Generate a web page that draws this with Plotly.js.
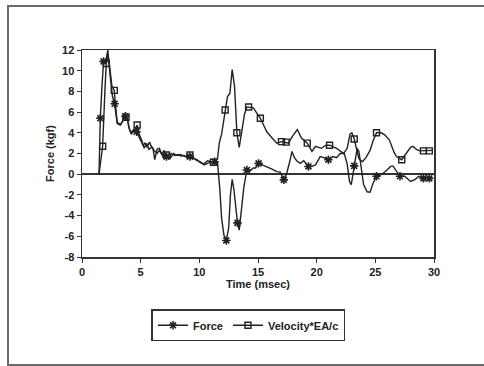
<!DOCTYPE html>
<html>
<head>
<meta charset="utf-8">
<script src="https://cdn.plot.ly/plotly-3.0.1.min.js"></script>
<style>
html,body{margin:0;padding:0;background:#fff;overflow:hidden;}
#wrap{position:relative;width:484px;height:366px;overflow:hidden;}
#chart{position:absolute;left:0;top:0;width:484px;height:366px;}
#frame{position:absolute;left:7px;top:5px;width:490px;height:357px;border:2px solid #6a6a6a;border-right:none;pointer-events:none;}
</style>
</head>
<body>
<div id="wrap"><div id="chart"></div><div id="frame"></div></div>
<script>
// Force series (time in msec, force in kgf)
var forceT = [1.45,1.56,1.7,1.84,2.0,2.2,2.4,2.6,2.78,2.9,3.0,3.25,3.5,3.7,3.85,4.0,4.17,4.4,4.65,4.8,5.0,5.2,5.35,5.55,5.75,5.9,6.05,6.2,6.4,6.6,6.8,7.0,7.2,7.4,7.6,7.9,8.2,8.4,8.7,9.0,9.2,9.5,9.8,10.1,10.4,10.7,11.0,11.3,11.55,11.75,11.9,12.1,12.3,12.5,12.65,12.8,12.95,13.1,13.25,13.4,13.6,13.8,14.05,14.3,14.6,14.8,15.05,15.4,15.75,16.2,16.6,16.9,17.2,17.45,17.7,17.9,18.1,18.3,18.6,18.9,19.3,19.7,19.9,20.3,20.6,21.0,21.4,21.7,22.0,22.35,22.6,22.8,22.95,23.1,23.2,23.45,23.6,23.8,24.0,24.3,24.55,24.8,25.1,25.5,25.9,26.3,26.5,26.8,27.1,27.5,28.0,28.4,28.7,29.1,29.5,29.85];
var forceV = [0,5.4,8.5,10.9,10.7,12,9.5,7.5,6.8,5.5,4.9,4.75,5.3,5.6,5.4,4.5,4.0,4.3,4.1,3.7,3.3,2.8,3.0,2.6,3.1,2.7,2.5,1.4,2.4,2.5,1.9,2.3,1.7,1.6,2.0,1.8,1.9,1.75,1.8,1.6,1.7,1.5,1.4,1.1,1.0,1.3,1.2,1.2,1.1,-1.5,-4.3,-5.9,-6.4,-5.2,-2.0,-0.5,-1.5,-3.5,-4.7,-5.4,-3.5,-1.2,0.4,0.3,0.6,0.6,1.05,0.9,0.75,0.5,0.25,0.2,-0.55,0.1,1.2,2.2,1.6,1.3,1.05,1.3,0.75,0.8,0.9,1.7,1.6,1.4,1.7,1.6,2.0,2.0,1.0,-0.7,-1.0,0.0,0.8,2.5,2.2,0.5,-1.0,-1.7,-1.75,-0.9,-0.2,-0.05,0.3,0.75,0.8,0.3,-0.2,-0.2,-0.7,-0.5,-0.2,-0.4,-0.4,-0.35];
var forceMarkT = [1.56,1.84,2.78,3.7,4.65,7.2,9.2,11.3,12.3,13.25,14.05,15.05,17.2,19.3,21.0,23.2,25.1,27.1,29.1,29.6];
var forceMarkV = [5.4,10.9,6.8,5.6,4.1,1.7,1.7,1.2,-6.4,-4.7,0.4,1.05,-0.55,0.75,1.4,0.8,-0.2,-0.2,-0.4,-0.4];

// Velocity*EA/c series
var velT = [1.45,1.76,1.95,2.07,2.2,2.35,2.55,2.75,2.85,3.0,3.3,3.55,3.75,3.9,4.05,4.2,4.45,4.7,4.85,5.05,5.3,5.5,5.7,5.95,6.15,6.4,6.6,6.9,7.2,7.5,7.8,8.1,8.4,8.8,9.2,9.5,9.8,10.1,10.4,10.8,11.2,11.55,11.7,11.9,12.2,12.4,12.6,12.8,13.0,13.2,13.4,13.6,13.85,14.05,14.6,15.2,15.75,16.2,16.6,17.0,17.3,17.6,17.9,18.35,18.7,19.2,19.6,19.9,20.4,20.8,21.1,21.7,22.3,22.6,22.85,23.0,23.2,23.4,23.6,23.9,24.2,24.55,24.8,25.1,25.5,25.8,26.2,26.6,26.8,27.25,27.6,28.0,28.2,28.5,28.8,29.4,29.85];
var velV = [0,2.7,8,10.7,11.5,10.5,8.5,8.1,6.8,5.0,4.8,5.3,5.5,5.2,4.3,3.9,4.2,4.75,3.9,3.4,2.5,3.0,2.4,2.6,2.3,2.0,2.3,1.7,1.85,1.5,2.0,1.8,1.9,1.7,1.85,1.6,1.3,1.2,0.9,1.1,1.15,1.5,3.0,3.9,6.2,7.5,7.8,10.1,8.5,4.0,2.6,4.0,5.8,6.5,6.4,5.4,4.1,3.5,3.0,3.15,3.1,3.0,3.6,4.3,3.5,3.0,2.2,2.7,2.5,2.8,2.8,2.5,2.0,2.5,3.9,4.0,3.4,2.3,1.5,1.2,1.6,2.3,3.2,4.0,4.0,3.8,3.3,2.1,1.7,1.4,2.0,2.6,2.7,2.4,2.25,2.25,2.3];
var velMarkT = [1.76,2.07,2.75,3.75,4.7,7.2,9.2,11.2,12.2,13.2,14.2,15.2,17.0,17.4,19.2,21.1,23.2,25.1,27.25,29.1,29.6];
var velMarkV = [2.7,10.7,8.1,5.5,4.75,1.85,1.85,1.15,6.2,4.0,6.5,5.4,3.15,3.1,3.0,2.8,3.4,4.0,1.4,2.25,2.25];

var seriesNames = ['Force', 'Velocity*EA/c'];
var xTicks = [0,5,10,15,20,25,30];
var yTicks = [-8,-6,-4,-2,0,2,4,6,8,10,12];

var ink = '#222';
var fnt = {family:'Liberation Sans, Arial, sans-serif', size:11, color:ink, weight:'bold'};

var traces = [
  {x:forceT, y:forceV, mode:'lines', line:{color:ink,width:1.4}, showlegend:false, hoverinfo:'skip'},
  {x:velT, y:velV, mode:'lines', line:{color:ink,width:1.4}, showlegend:false, hoverinfo:'skip'},
  {x:forceMarkT, y:forceMarkV, mode:'markers', marker:{symbol:'asterisk-open', size:7, color:ink, line:{color:ink,width:1.6}}, showlegend:false},
  {x:velMarkT, y:velMarkV, mode:'markers', marker:{symbol:'square-open', size:6, color:ink, line:{color:ink,width:1.4}}, showlegend:false},
  {x:[null], y:[null], name:seriesNames[0], mode:'lines+markers', line:{color:ink,width:1.4}, marker:{symbol:'asterisk-open', size:7, color:ink, line:{color:ink,width:1.6}}},
  {x:[null], y:[null], name:seriesNames[1], mode:'lines+markers', line:{color:ink,width:1.4}, marker:{symbol:'square-open', size:6, color:ink, line:{color:ink,width:1.4}}}
];

var layout = {
  width:484, height:366,
  margin:{l:82, r:50, t:50, b:109},
  paper_bgcolor:'#fff', plot_bgcolor:'#fff',
  font:fnt,
  showlegend:true,
  legend:{orientation:'h', x:0.473, xanchor:'center', y:-0.33, yanchor:'middle',
          bordercolor:'#333', borderwidth:1.5, bgcolor:'#fff',
          font:{family:'Liberation Sans, Arial, sans-serif', size:11, color:ink, weight:'bold'},
          itemwidth:30, tracegroupgap:0},
  xaxis:{range:[0,30], tickvals:xTicks, ticktext:xTicks.map(String),
         showgrid:false, zeroline:false, showline:true, linecolor:'#333', linewidth:1.5, mirror:true,
         ticks:'outside', ticklen:4, tickcolor:'#333', tickfont:fnt,
         title:{text:'Time (msec)', font:fnt, standoff:1}},
  yaxis:{range:[-8,12], tickvals:yTicks, ticktext:yTicks.map(String),
         showgrid:false, zeroline:true, zerolinecolor:'#333', zerolinewidth:1.5,
         showline:true, linecolor:'#333', linewidth:1.5, mirror:true,
         ticks:'outside', ticklen:4, tickcolor:'#333', tickfont:fnt,
         title:{text:'Force (kgf)', font:fnt, standoff:5}}
};

Plotly.newPlot('chart', traces, layout, {staticPlot:true, displayModeBar:false});
</script>
</body>
</html>
